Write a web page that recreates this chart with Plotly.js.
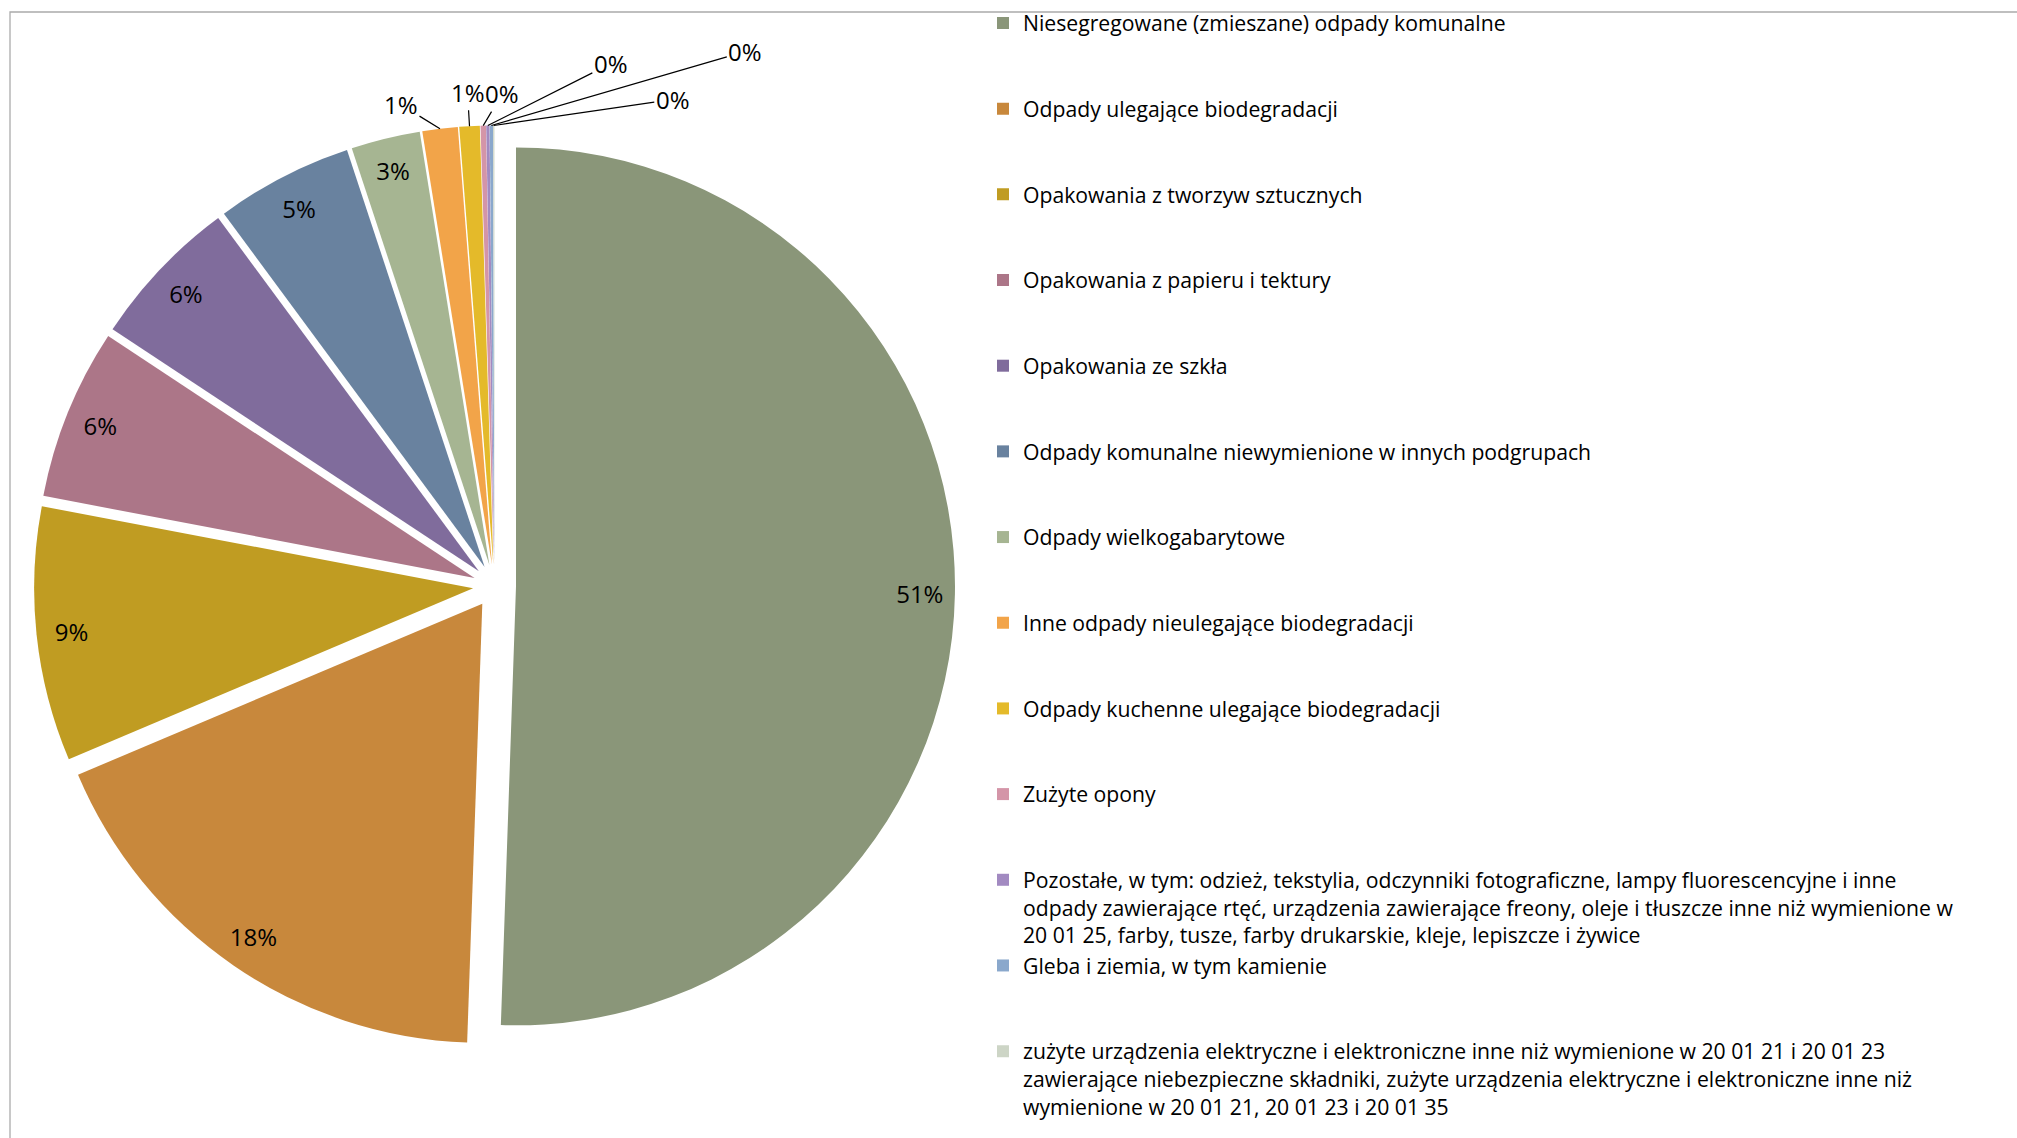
<!DOCTYPE html>
<html>
<head>
<meta charset="utf-8">
<script src="https://cdn.plot.ly/plotly-3.0.1.min.js"></script>
<style>
  html, body { margin: 0; padding: 0; background: #ffffff; }
  #chart { width: 2017px; height: 1138px; }
</style>
</head>
<body>
<div id="chart"></div>
<script>
// ---- data ----
const categories = [
  "Niesegregowane (zmieszane) odpady komunalne",
  "Odpady ulegające biodegradacji",
  "Opakowania z tworzyw sztucznych",
  "Opakowania z papieru i tektury",
  "Opakowania ze szkła",
  "Odpady komunalne niewymienione w innych podgrupach",
  "Odpady wielkogabarytowe",
  "Inne odpady nieulegające biodegradacji",
  "Odpady kuchenne ulegające biodegradacji",
  "Zużyte opony",
  "Pozostałe, w tym: odzież, tekstylia, odczynniki fotograficzne, lampy fluorescencyjne i inne odpady zawierające rtęć, urządzenia zawierające freony, oleje i tłuszcze inne niż wymienione w 20 01 25, farby, tusze, farby drukarskie, kleje, lepiszcze i żywice",
  "Gleba i ziemia, w tym kamienie",
  "zużyte urządzenia elektryczne i elektroniczne inne niż wymienione w 20 01 21 i 20 01 23 zawierające niebezpieczne składniki, zużyte urządzenia elektryczne i elektroniczne inne niż wymienione w 20 01 21, 20 01 23 i 20 01 35"
];
const shares = [50.6, 18.1, 9.37, 6.3, 5.6, 5.05, 2.54, 1.3, 0.75, 0.2, 0.12, 0.12, 0.05];

// ---- styling (kept apart from the data) ----
const sliceColors = ["#8A9679", "#C8883C", "#C09C22", "#AC7688", "#806C9C", "#69829F",
                     "#A6B592", "#F2A449", "#E4BA2A", "#D495A8", "#A28AC1", "#8AA8CC", "#CDD5C6"];
const labelPlacement = ["inside", "inside", "inside", "inside", "inside", "inside", "inside",
                        "outside", "outside", "outside", "outside", "outside", "outside"];
const outsideLabelOffsets = [null, null, null, null, null, null, null,
                             [-39, -24], [-2, -34], [19, -32], [123, -62], [254, -74], [179, -26]];

const W = 2017, H = 1138;
const PULL = 0.049;
const pieDomain = { x: [34 / W, 955 / W], y: [1 - 1046.5 / H, 1 - 125.5 / H] };
const FONT = "Open Sans, Noto Sans, DejaVu Sans, sans-serif";

function wrapLegend(text, maxChars, nLines) {
  const words = text.split(" ");
  const lines = [];
  let cur = "";
  for (const w of words) {
    if (cur && (cur + " " + w).length > maxChars) { lines.push(cur); cur = w; }
    else { cur = cur ? cur + " " + w : w; }
  }
  if (cur) lines.push(cur);
  while (lines.length < nLines) lines.push("\u00a0");
  return lines.join("<br>");
}
const legendLabels = categories.map(c => wrapLegend(c, 95, 3));

const mainPie = {
  type: "pie",
  labels: legendLabels,
  values: shares,
  sort: false,
  direction: "clockwise",
  rotation: 0,
  pull: PULL,
  domain: pieDomain,
  marker: { colors: sliceColors, line: { width: 0 } },
  textinfo: "none",
  hoverinfo: "label+percent",
  showlegend: true
};

const labelRing = {
  type: "pie",
  labels: legendLabels,
  values: shares,
  sort: false,
  direction: "clockwise",
  rotation: 0,
  pull: PULL,
  hole: 0.84,
  domain: pieDomain,
  marker: { colors: shares.map(() => "rgba(0,0,0,0)"), line: { width: 0 } },
  texttemplate: labelPlacement.map(p => p === "inside" ? "%{percent:.0%}" : ""),
  textposition: labelPlacement.map(p => p === "inside" ? "inside" : "none"),
  insidetextorientation: "horizontal",
  insidetextfont: { family: FONT, size: 24, color: "#000000" },
  hoverinfo: "skip",
  showlegend: false
};

const layout = {
  width: W,
  height: H,
  margin: { l: 0, r: 0, t: 0, b: 0, pad: 0, autoexpand: false },
  paper_bgcolor: "#ffffff",
  plot_bgcolor: "#ffffff",
  font: { family: FONT, color: "#000000" },
  showlegend: true,
  legend: {
    x: 983 / W, xanchor: "left",
    y: 1 - 2.7 / H, yanchor: "top",
    valign: "top",
    traceorder: "normal",
    bgcolor: "rgba(0,0,0,0)",
    borderwidth: 0,
    font: { family: FONT, size: 21.2, color: "#000000" }
  },
  shapes: [{
    type: "rect", xref: "paper", yref: "paper",
    x0: 10 / W, x1: 1.02, y0: -0.02, y1: 1 - 12 / H,
    line: { color: "#ABABAB", width: 1.3 },
    fillcolor: "rgba(0,0,0,0)"
  }]
};

const gdEl = document.getElementById("chart");
Plotly.newPlot(gdEl, [mainPie, labelRing], layout, { displayModeBar: false, responsive: false })
  .then(gd => {
    const cd = gd.calcdata[0];
    const size = gd._fullLayout._size;
    const total = cd[0].vTotal;
    const anns = [];
    cd.forEach((pt, i) => {
      if (labelPlacement[i] !== "outside") return;
      const cx = (pt.cxFinal !== undefined) ? pt.cxFinal : cd[0].cx + PULL * pt.pxmid[0];
      const cy = (pt.cyFinal !== undefined) ? pt.cyFinal : cd[0].cy + PULL * pt.pxmid[1];
      const px = cx + pt.pxmid[0];
      const py = cy + pt.pxmid[1];
      const off = outsideLabelOffsets[i];
      anns.push({
        xref: "paper", yref: "paper",
        x: (px - size.l) / size.w,
        y: 1 - (py - size.t) / size.h,
        text: Math.round(pt.v / total * 100) + "%",
        showarrow: true, arrowhead: 0, arrowwidth: 1.2, arrowcolor: "#000000",
        standoff: 0, startstandoff: 0,
        ax: off[0], ay: off[1],
        font: { family: FONT, size: 24, color: "#000000" }
      });
    });
    return Plotly.relayout(gd, { annotations: anns });
  });
</script>
</body>
</html>
